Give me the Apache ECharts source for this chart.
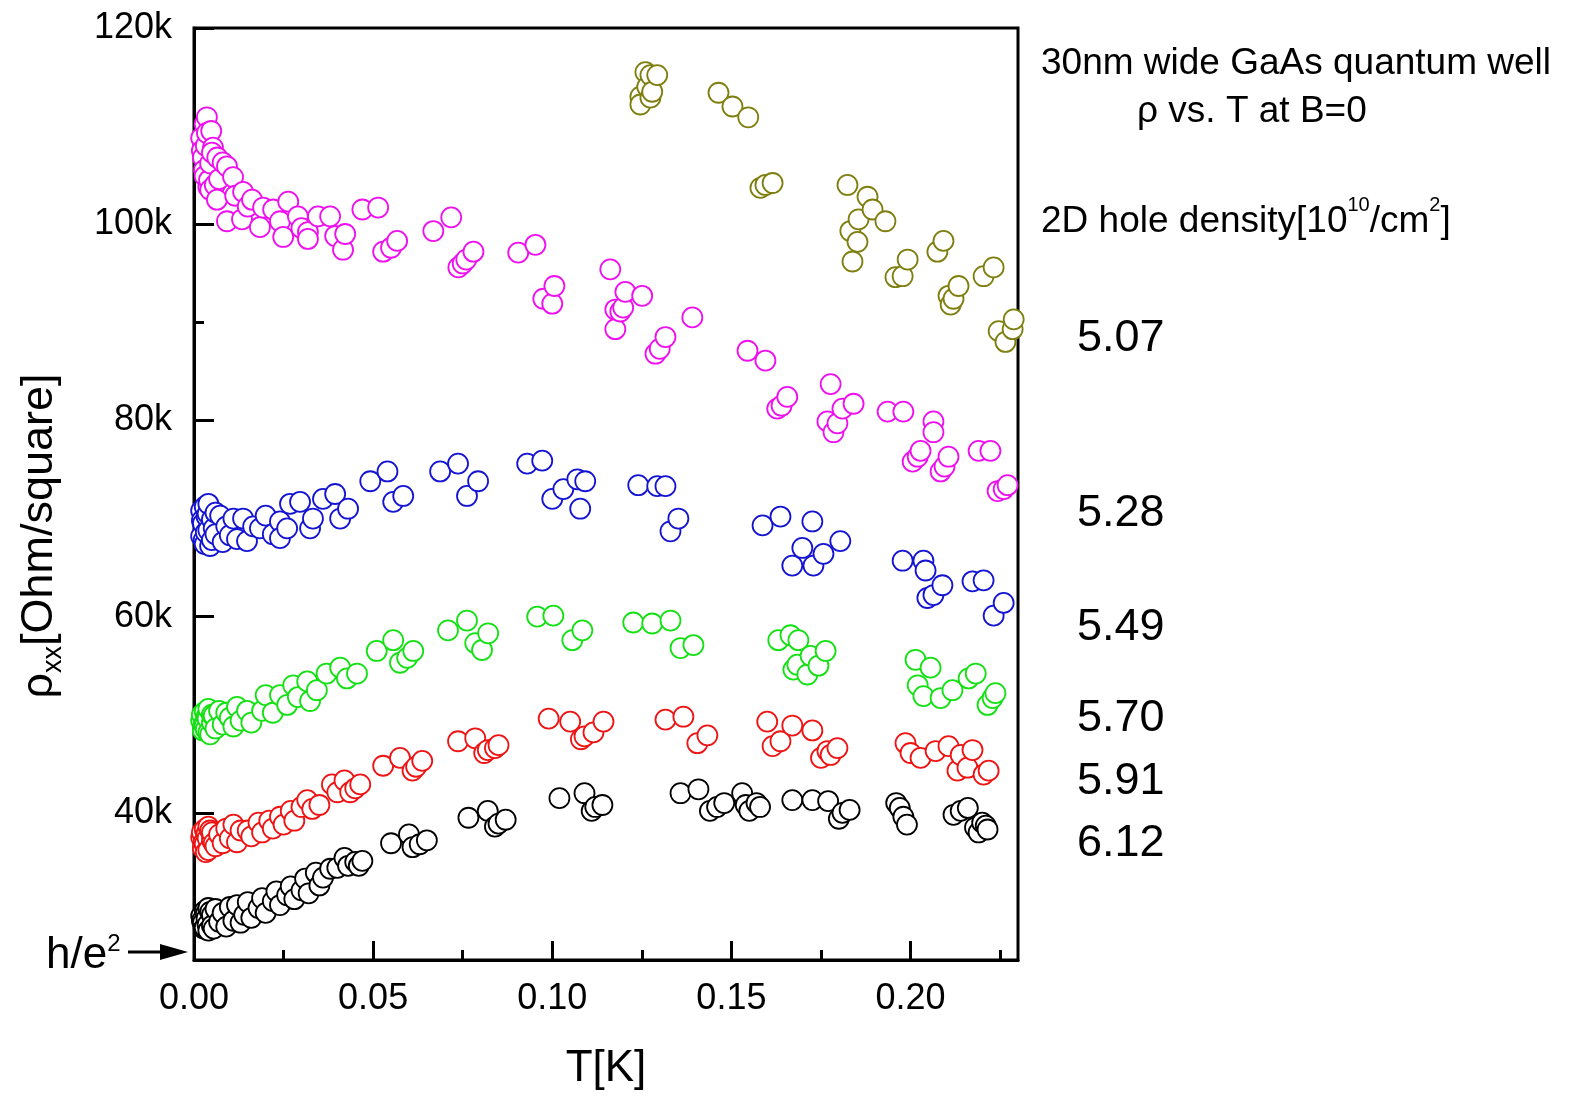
<!DOCTYPE html>
<html>
<head>
<meta charset="utf-8">
<script src="https://cdn.jsdelivr.net/npm/echarts@6/dist/echarts.min.js"></script>
<style>
html,body{margin:0;padding:0;background:#fff;}
#chart{width:1585px;height:1096px;}
</style>
</head>
<body>
<div id="chart"></div>
<script>
// ---- data: [T (K), rho_xx (kOhm/square)] ----
const densities = ['5.07', '5.28', '5.49', '5.70', '5.91', '6.12'];
const seriesColors = ['#7f7f10', '#ee10ee', '#1414d2', '#14e014', '#ee1414', '#000000'];

const d507 = [[0.1168,120.3],[0.1218,120.2],[0.1246,113.0],[0.1246,112.2],[0.1260,115.5],[0.1265,114.0],[0.1274,115.2],[0.1274,112.9],[0.1279,113.5],[0.1293,115.2],[0.1464,113.4],[0.1503,112.0],[0.1547,110.9],[0.1581,103.7],[0.1595,104.0],[0.1615,104.2],[0.1824,104.0],[0.1832,99.3],[0.1838,96.2],[0.1852,98.2],[0.1855,100.5],[0.1880,102.8],[0.1894,101.5],[0.1930,100.3],[0.1958,94.6],[0.1978,94.7],[0.1992,96.4],[0.2075,97.2],[0.2092,98.3],[0.2106,92.7],[0.2112,91.8],[0.2120,92.4],[0.2134,93.7],[0.2204,94.7],[0.2232,95.6],[0.2246,89.1],[0.2265,88.0],[0.2285,89.3],[0.2288,90.3]];

const d528 = [[0.0020,108.8],[0.0022,107.5],[0.0025,106.8],[0.0028,105.5],[0.0030,110.2],[0.0030,104.9],[0.0033,108.0],[0.0036,110.9],[0.0036,109.3],[0.0040,103.8],[0.0042,104.5],[0.0045,103.5],[0.0045,106.2],[0.0048,109.5],[0.0053,107.8],[0.0050,107.3],[0.0058,104.0],[0.0064,102.5],[0.0065,106.8],[0.0070,104.6],[0.0080,106.3],[0.0092,105.9],[0.0092,100.3],[0.0109,104.8],[0.0115,102.9],[0.0134,100.5],[0.0137,103.3],[0.0150,101.8],[0.0162,102.5],[0.0184,99.7],[0.0193,101.7],[0.0221,101.5],[0.0240,100.3],[0.0249,98.7],[0.0263,102.3],[0.0290,100.8],[0.0300,99.6],[0.0318,99.2],[0.0318,98.5],[0.0346,100.8],[0.0380,100.8],[0.0394,98.8],[0.0416,97.4],[0.0422,99.0],[0.0470,101.5],[0.0514,101.7],[0.0528,97.2],[0.0550,97.6],[0.0567,98.3],[0.0668,99.3],[0.0718,100.7],[0.0738,95.6],[0.0750,96.0],[0.0760,96.4],[0.0780,97.2],[0.0905,97.1],[0.0953,97.9],[0.0975,92.4],[0.1000,91.9],[0.1006,93.7],[0.1162,95.4],[0.1176,91.3],[0.1176,89.3],[0.1190,91.1],[0.1198,91.5],[0.1204,93.1],[0.1251,92.7],[0.1288,86.8],[0.1300,87.3],[0.1316,88.5],[0.1391,90.5],[0.1545,87.1],[0.1595,86.1],[0.1628,81.2],[0.1640,81.5],[0.1656,82.4],[0.1768,79.9],[0.1777,83.7],[0.1785,78.8],[0.1796,79.7],[0.1810,81.2],[0.1841,81.7],[0.1936,80.9],[0.1980,80.9],[0.2006,75.8],[0.2020,76.3],[0.2028,76.9],[0.2064,79.9],[0.2064,78.8],[0.2084,74.8],[0.2095,75.3],[0.2106,76.3],[0.2190,76.9],[0.2223,76.9],[0.2243,72.8],[0.2260,73.0],[0.2271,73.4]];

const d549 = [[0.0020,70.8],[0.0020,68.2],[0.0022,69.8],[0.0025,69.5],[0.0027,67.8],[0.0030,71.2],[0.0030,67.4],[0.0033,68.6],[0.0035,70.2],[0.0038,70.5],[0.0040,68.8],[0.0040,71.5],[0.0045,67.2],[0.0050,67.8],[0.0050,69.9],[0.0055,69.0],[0.0060,70.6],[0.0060,68.4],[0.0073,70.3],[0.0080,67.6],[0.0090,69.2],[0.0100,68.3],[0.0110,70.0],[0.0120,67.9],[0.0137,70.0],[0.0148,67.7],[0.0165,69.2],[0.0184,69.0],[0.0200,70.3],[0.0220,68.4],[0.0240,69.7],[0.0240,68.0],[0.0260,69.0],[0.0268,71.5],[0.0296,71.7],[0.0324,69.0],[0.0332,70.0],[0.0360,72.0],[0.0394,72.5],[0.0408,70.0],[0.0430,71.0],[0.0492,73.8],[0.0540,74.8],[0.0556,71.7],[0.0584,72.3],[0.0687,74.8],[0.0737,75.6],[0.0762,72.3],[0.0793,73.8],[0.0930,75.6],[0.0972,75.9],[0.1000,72.0],[0.1031,73.0],[0.1070,74.0],[0.1078,71.0],[0.1092,73.8],[0.1240,73.4],[0.1293,73.3],[0.1316,73.3],[0.1330,68.7],[0.1352,70.0],[0.1587,69.3],[0.1637,70.2],[0.1670,65.2],[0.1698,67.0],[0.1726,69.7],[0.1729,65.2],[0.1757,66.4],[0.1804,67.7],[0.1978,65.7],[0.2036,65.7],[0.2042,64.7],[0.2047,61.9],[0.2064,62.2],[0.2089,63.2],[0.2173,63.6],[0.2204,63.7],[0.2232,60.1],[0.2260,61.4]];

const d570 = [[0.0020,49.4],[0.0022,50.0],[0.0025,48.4],[0.0027,49.0],[0.0030,50.3],[0.0030,48.9],[0.0033,48.5],[0.0035,49.8],[0.0038,49.6],[0.0040,50.6],[0.0040,48.2],[0.0045,48.0],[0.0050,49.2],[0.0050,50.0],[0.0055,49.9],[0.0060,48.6],[0.0070,50.4],[0.0080,49.0],[0.0090,50.2],[0.0100,49.7],[0.0110,48.8],[0.0120,50.8],[0.0130,49.4],[0.0148,50.4],[0.0160,49.2],[0.0190,50.4],[0.0200,52.0],[0.0220,50.2],[0.0240,52.0],[0.0260,51.0],[0.0277,53.0],[0.0290,51.8],[0.0316,53.4],[0.0324,51.4],[0.0343,52.5],[0.0370,54.2],[0.0408,54.8],[0.0427,53.7],[0.0455,54.2],[0.0510,56.5],[0.0556,57.6],[0.0575,55.3],[0.0595,55.8],[0.0612,56.5],[0.0709,58.6],[0.0762,59.6],[0.0785,57.3],[0.0804,56.6],[0.0821,58.3],[0.0958,60.0],[0.1003,60.1],[0.1056,57.6],[0.1084,58.6],[0.1226,59.4],[0.1279,59.3],[0.1330,59.6],[0.1358,56.8],[0.1394,57.1],[0.1631,57.6],[0.1665,58.1],[0.1673,54.6],[0.1684,55.1],[0.1687,57.6],[0.1712,54.1],[0.1721,56.0],[0.1743,55.0],[0.1763,56.5],[0.2014,55.6],[0.2020,53.0],[0.2036,51.9],[0.2056,54.8],[0.2084,51.7],[0.2117,52.5],[0.2162,53.7],[0.2182,54.2],[0.2215,51.0],[0.2229,51.7],[0.2237,52.2]];

const d591 = [[0.0020,37.5],[0.0022,38.0],[0.0025,36.4],[0.0027,37.0],[0.0030,38.3],[0.0030,36.8],[0.0033,36.0],[0.0035,37.9],[0.0038,37.4],[0.0040,38.6],[0.0040,36.2],[0.0045,38.2],[0.0050,37.2],[0.0050,38.0],[0.0055,36.9],[0.0060,36.6],[0.0070,37.8],[0.0080,36.9],[0.0090,38.4],[0.0100,37.4],[0.0110,38.8],[0.0120,37.0],[0.0130,38.2],[0.0150,38.2],[0.0160,37.6],[0.0180,39.0],[0.0190,38.0],[0.0210,39.2],[0.0220,38.4],[0.0240,39.6],[0.0250,38.8],[0.0270,40.2],[0.0280,39.2],[0.0300,40.6],[0.0316,41.3],[0.0330,40.4],[0.0350,40.8],[0.0385,42.9],[0.0400,42.1],[0.0420,43.3],[0.0436,42.1],[0.0450,42.5],[0.0464,42.9],[0.0528,44.8],[0.0575,45.6],[0.0610,44.3],[0.0620,44.7],[0.0637,45.3],[0.0737,47.3],[0.0785,47.6],[0.0810,46.1],[0.0820,46.4],[0.0840,46.6],[0.0850,46.9],[0.0990,49.6],[0.1050,49.3],[0.1080,47.5],[0.1090,47.8],[0.1115,48.2],[0.1143,49.3],[0.1316,49.5],[0.1366,49.8],[0.1405,47.1],[0.1433,47.9],[0.1600,49.3],[0.1615,46.8],[0.1637,47.3],[0.1670,48.9],[0.1726,48.4],[0.1750,45.6],[0.1768,46.3],[0.1777,45.9],[0.1796,46.6],[0.1986,47.1],[0.2000,46.1],[0.2028,45.6],[0.2070,46.3],[0.2106,46.8],[0.2131,44.3],[0.2140,45.9],[0.2159,44.6],[0.2173,46.4],[0.2204,43.9],[0.2218,44.3]];

const d612 = [[0.0020,29.5],[0.0022,29.0],[0.0025,28.8],[0.0027,28.2],[0.0030,30.0],[0.0030,28.3],[0.0033,29.7],[0.0035,29.2],[0.0038,28.6],[0.0040,30.3],[0.0040,28.0],[0.0045,29.9],[0.0050,29.6],[0.0050,28.5],[0.0055,28.2],[0.0060,30.2],[0.0070,28.9],[0.0080,29.8],[0.0090,28.4],[0.0100,30.4],[0.0110,29.0],[0.0120,30.6],[0.0130,28.8],[0.0140,29.6],[0.0150,30.9],[0.0160,29.3],[0.0180,30.3],[0.0190,31.3],[0.0200,29.8],[0.0220,31.0],[0.0230,32.0],[0.0240,30.6],[0.0260,31.6],[0.0270,32.5],[0.0280,31.2],[0.0300,32.1],[0.0310,33.3],[0.0320,31.8],[0.0340,33.9],[0.0350,32.6],[0.0360,33.4],[0.0380,34.3],[0.0400,34.4],[0.0420,35.4],[0.0430,34.6],[0.0450,35.0],[0.0460,34.6],[0.0470,35.1],[0.0550,36.9],[0.0600,37.8],[0.0610,36.5],[0.0630,36.8],[0.0650,37.2],[0.0766,39.5],[0.0820,40.2],[0.0840,38.6],[0.0850,38.9],[0.0870,39.3],[0.1020,41.5],[0.1090,42.0],[0.1110,40.2],[0.1120,40.6],[0.1140,40.8],[0.1358,42.0],[0.1408,42.4],[0.1440,40.2],[0.1460,40.6],[0.1480,41.0],[0.1530,42.0],[0.1540,40.8],[0.1550,40.2],[0.1570,41.0],[0.1580,40.6],[0.1670,41.3],[0.1726,41.3],[0.1770,41.2],[0.1800,39.4],[0.1810,40.0],[0.1830,40.3],[0.1960,41.0],[0.1970,40.5],[0.1980,39.6],[0.1990,38.8],[0.2120,39.8],[0.2140,40.2],[0.2160,40.5],[0.2180,38.5],[0.2190,38.0],[0.2200,39.0],[0.2210,38.7],[0.2215,38.3]];

const seriesData = [d507, d528, d549, d570, d591, d612];

// axis ticks
const xMajorTicks = [0, 0.05, 0.10, 0.15, 0.20];
const xMinorTicks = [0.025, 0.075, 0.125, 0.175, 0.225];
const yMajorTicks = [40, 60, 80, 100, 120];
const yMinorTicks = [30, 50, 70, 90, 110];
const hOverE2 = 25.813; // kOhm

const FONT = '"Liberation Sans", Arial, Helvetica, sans-serif';
const chart = echarts.init(document.getElementById('chart'), null, {renderer: 'canvas'});

const xBase = {
  type: 'value', min: 0, max: 0.23, gridIndex: 0, position: 'bottom',
  splitLine: {show: false}
};
const yBase = {
  type: 'value', min: 25, max: 120, gridIndex: 0, position: 'left',
  splitLine: {show: false}
};

const option = {
  animation: false,
  backgroundColor: '#ffffff',
  grid: {left: 194, right: 567, top: 28, bottom: 133, show: true,
         borderColor: '#000', borderWidth: 3, backgroundColor: 'transparent'},
  xAxis: [
    Object.assign({}, xBase, {
      axisLine: {show: true, lineStyle: {color: '#000', width: 3}},
      axisTick: {show: true, inside: true, length: 19, customValues: xMajorTicks,
                 lineStyle: {color: '#000', width: 3}},
      axisLabel: {show: true, customValues: xMajorTicks, margin: 21, color: '#000',
                  fontSize: 36, fontFamily: FONT,
                  formatter: v => Number(v).toFixed(2)},
      name: 'T[K]', nameLocation: 'middle', nameGap: 87,
      nameTextStyle: {fontSize: 44, color: '#000', fontFamily: FONT}
    }),
    Object.assign({}, xBase, {
      axisLine: {show: false},
      axisTick: {show: true, inside: true, length: 10, customValues: xMinorTicks,
                 lineStyle: {color: '#000', width: 3}},
      axisLabel: {show: false}
    })
  ],
  yAxis: [
    Object.assign({}, yBase, {
      axisLine: {show: true, lineStyle: {color: '#000', width: 3}},
      axisTick: {show: true, inside: true, length: 20, customValues: yMajorTicks,
                 lineStyle: {color: '#000', width: 3}},
      axisLabel: {show: true, customValues: yMajorTicks, margin: 22, color: '#000',
                  fontSize: 36, fontFamily: FONT, formatter: v => v + 'k'}
    }),
    Object.assign({}, yBase, {
      axisLine: {show: false},
      axisTick: {show: true, inside: true, length: 10, customValues: yMinorTicks,
                 lineStyle: {color: '#000', width: 3}},
      axisLabel: {show: false}
    })
  ],
  series: seriesData.map((d, i) => ({
    name: densities[i],
    type: 'scatter',
    xAxisIndex: 0, yAxisIndex: 0,
    data: d,
    symbol: 'circle',
    symbolSize: 20,
    clip: true,
    itemStyle: {color: '#ffffff', borderColor: seriesColors[i], borderWidth: 1.8, opacity: 1},
    emphasis: {disabled: true}
  }))
};
chart.setOption(option);

// annotations
const tip = chart.convertToPixel({xAxisIndex: 0, yAxisIndex: 0}, [0, hOverE2]);
const ax = tip[0] - 6, ay = tip[1];
const labelY = [339, 514, 628, 719, 782, 844];
const graphics = [
  {type: 'text', left: 1041, top: 45, style: {text: '30nm wide GaAs quantum well', fontSize: 37, fontFamily: FONT, fill: '#000'}},
  {type: 'text', left: 1137, top: 93, style: {text: 'ρ vs. T at B=0', fontSize: 37, fontFamily: FONT, fill: '#000'}},
  {type: 'text', left: 1041, top: 195, style: {
    text: '{m|2D hole density[10}{s|10}{m|/cm}{s|2}{m|]}',
    rich: {m: {fontSize: 37, fontFamily: FONT, fill: '#000', lineHeight: 45, verticalAlign: 'bottom'},
           s: {fontSize: 20, fontFamily: FONT, fill: '#000', lineHeight: 45, verticalAlign: 'top'}}
  }},
  {type: 'text', x: 40, y: 536, rotation: Math.PI / 2, style: {
    text: '{m|ρ}{s|xx}{m|[Ohm/square]}', align: 'center', verticalAlign: 'middle',
    rich: {m: {fontSize: 45, fontFamily: FONT, fill: '#000', lineHeight: 54, verticalAlign: 'middle'},
           s: {fontSize: 27, fontFamily: FONT, fill: '#000', lineHeight: 54, verticalAlign: 'bottom'}}
  }},
  {type: 'text', x: 46, y: 978, style: {
    text: '{m|h/e}{s|2}', verticalAlign: 'bottom', align: 'left',
    rich: {m: {fontSize: 44, fontFamily: FONT, fill: '#000', lineHeight: 46, verticalAlign: 'bottom'},
           s: {fontSize: 24, fontFamily: FONT, fill: '#000', lineHeight: 46, verticalAlign: 'top'}}
  }},
  {type: 'line', shape: {x1: 128, y1: ay, x2: ax - 20, y2: ay}, style: {stroke: '#000', lineWidth: 3}},
  {type: 'polygon', shape: {points: [[ax - 28, ay - 8], [ax, ay], [ax - 28, ay + 8]]}, style: {fill: '#000'}}
];
densities.forEach((t, i) => {
  graphics.push({type: 'text', x: 1077, y: labelY[i], style: {text: t, fontSize: 45, fontFamily: FONT, fill: '#000', verticalAlign: 'middle', align: 'left'}});
});
chart.setOption({graphic: graphics});
</script>
</body>
</html>
